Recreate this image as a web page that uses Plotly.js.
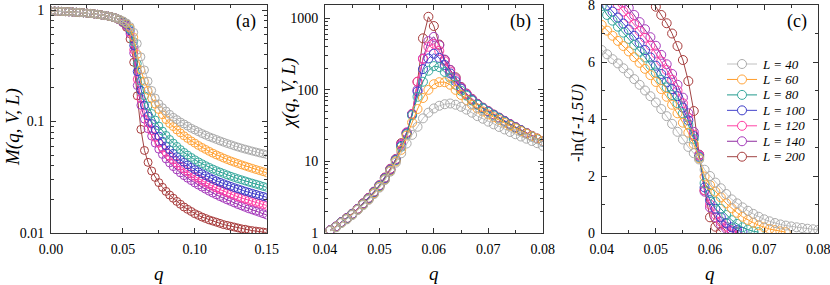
<!DOCTYPE html>
<html><head><meta charset="utf-8">
<script src="https://cdn.plot.ly/plotly-3.0.1.min.js"></script>
<style>html,body{margin:0;padding:0;background:#fff}#chart{width:830px;height:285px}</style>
</head><body><div id="chart"></div>
<script>
// ---------- data ----------
const sizesL = ['40','60','80','100','120','140','200'];
const colors = ['#ababab','#ffa53c','#3aaa9f','#3c3cc8','#ff3ca2','#a63cbc','#a83c3c'];
const lineColors = ['#c0c0c0','#ff9d2a','#22998c','#4444cc','#ff44a6','#8e2c9e','#a04444'];

const qA = [0,0.0025,0.005,0.0075,0.01,0.0125,0.015,0.0175,0.02,0.0225,0.025,0.0275,0.03,0.0325,0.035,0.0375,0.04,0.0425,0.045,0.0475,0.05,0.0525,0.055,0.0575,0.06,0.0625,0.065,0.0675,0.07,0.0725,0.075,0.0775,0.08,0.0825,0.085,0.0875,0.09,0.0925,0.095,0.0975,0.1,0.1025,0.105,0.1075,0.11,0.1125,0.115,0.1175,0.12,0.1225,0.125,0.1275,0.13,0.1325,0.135,0.1375,0.14,0.1425,0.145,0.1475,0.15];

const M40 = [0.980,0.978,0.975,0.972,0.968,0.964,0.960,0.955,0.950,0.944,0.938,0.931,0.923,0.914,0.904,0.893,0.880,0.865,0.847,0.825,0.800,0.765,0.710,0.630,0.500,0.380,0.290,0.230,0.190,0.162,0.144,0.133,0.124,0.116,0.109,0.104,0.099,0.095,0.091,0.087,0.084,0.081,0.078,0.0755,0.073,0.071,0.069,0.067,0.0652,0.0635,0.062,0.0604,0.059,0.0577,0.0565,0.0554,0.0543,0.0533,0.0523,0.0514,0.0505];
const M60 = [0.980,0.978,0.975,0.972,0.968,0.964,0.960,0.955,0.950,0.944,0.938,0.931,0.923,0.914,0.904,0.893,0.880,0.865,0.847,0.823,0.795,0.755,0.69,0.57,0.40,0.29,0.23,0.19,0.162,0.143,0.128,0.115,0.104,0.096,0.090,0.084,0.079,0.0745,0.0705,0.067,0.064,0.061,0.0585,0.0562,0.054,0.052,0.0502,0.0486,0.047,0.0456,0.0443,0.0431,0.042,0.0409,0.0399,0.0389,0.038,0.0371,0.0363,0.0355,0.0347];
const M80 = [0.980,0.978,0.975,0.972,0.968,0.964,0.960,0.955,0.950,0.944,0.938,0.931,0.923,0.914,0.904,0.893,0.880,0.865,0.847,0.822,0.79,0.75,0.67,0.52,0.33,0.23,0.17,0.138,0.118,0.103,0.091,0.082,0.075,0.069,0.064,0.0598,0.056,0.0528,0.050,0.0476,0.0454,0.0435,0.0418,0.0402,0.0388,0.0375,0.0363,0.0352,0.0342,0.0332,0.0323,0.0315,0.0307,0.030,0.0293,0.0286,0.028,0.0274,0.0268,0.0262,0.0257];
const M100 = [0.980,0.978,0.975,0.972,0.968,0.964,0.960,0.955,0.950,0.944,0.938,0.931,0.923,0.914,0.904,0.893,0.880,0.865,0.847,0.82,0.785,0.74,0.65,0.48,0.28,0.19,0.14,0.112,0.096,0.084,0.074,0.0665,0.0605,0.0558,0.0518,0.0484,0.0455,0.043,0.0408,0.0388,0.037,0.0354,0.034,0.0327,0.0315,0.0304,0.0294,0.0285,0.0277,0.0269,0.0262,0.0255,0.0249,0.0243,0.0237,0.0232,0.0227,0.0222,0.0217,0.0213,0.0209];
const M120 = [0.980,0.978,0.975,0.972,0.968,0.964,0.960,0.955,0.950,0.944,0.938,0.931,0.923,0.914,0.904,0.893,0.880,0.865,0.847,0.818,0.78,0.73,0.63,0.44,0.24,0.16,0.12,0.097,0.083,0.072,0.064,0.0577,0.0527,0.0486,0.0452,0.0422,0.0397,0.0375,0.0355,0.0338,0.0322,0.0308,0.0295,0.0283,0.0272,0.0262,0.0253,0.0245,0.0237,0.023,0.0223,0.0217,0.0211,0.0206,0.0201,0.0196,0.0192,0.0188,0.0184,0.018,0.0177];
const M140 = [0.980,0.978,0.975,0.972,0.968,0.964,0.960,0.955,0.950,0.944,0.938,0.931,0.923,0.914,0.904,0.893,0.880,0.865,0.847,0.816,0.775,0.72,0.61,0.41,0.21,0.14,0.105,0.086,0.074,0.064,0.0565,0.0507,0.0462,0.0425,0.0394,0.0368,0.0346,0.0327,0.031,0.0295,0.0281,0.0269,0.0258,0.0247,0.0237,0.0228,0.022,0.0212,0.0205,0.0198,0.0192,0.0186,0.018,0.0175,0.017,0.0165,0.0161,0.0157,0.0153,0.0149,0.0145];
const M200 = [0.980,0.978,0.975,0.972,0.968,0.964,0.960,0.955,0.950,0.944,0.938,0.931,0.923,0.914,0.904,0.893,0.880,0.865,0.847,0.814,0.77,0.70,0.55,0.34,0.17,0.085,0.055,0.043,0.036,0.0315,0.0283,0.0257,0.0236,0.0219,0.0205,0.0192,0.0181,0.0171,0.0163,0.0156,0.0149,0.0144,0.0139,0.0135,0.0131,0.0128,0.0125,0.0122,0.0119,0.0117,0.0115,0.0113,0.0111,0.0109,0.0108,0.0106,0.0105,0.0104,0.0103,0.0102,0.0101];

const qB = [0.041,0.042,0.043,0.044,0.045,0.046,0.047,0.048,0.049,0.050,0.051,0.052,0.053,0.054,0.055,0.056,0.057,0.058,0.059,0.060,0.061,0.062,0.063,0.064,0.065,0.066,0.067,0.068,0.069,0.070,0.071,0.072,0.073,0.074,0.075,0.076,0.077,0.078,0.079,0.080];
const X40 = [1.08,1.2,1.38,1.55,1.78,2.1,2.45,2.9,3.5,4.3, 5.5,7.2,9.6,13,17.8,23.5,30.5,40,48,55, 60,63,64.5,62,58,53,48,43,39.5,36, 33,30.3,28,25.8,24,22.3,20.8,19.3,18,16.5];
const X60 = [1.08,1.21,1.39,1.57,1.8,2.12,2.5,2.95,3.6,4.4, 5.6,7.4,10,14.5,23,35,54,77,100,120, 128,128,118,100,85,72,62,55,50,45.5, 41.5,38,34.5,31.5,29,26.5,24.5,22.5,20.8,19.2];
const X80 = [1.08,1.21,1.4,1.58,1.82,2.13,2.52,3.0,3.65,4.5, 5.7,7.5,10.3,16,24,44,80,130,185,215, 208,178,148,118,97,83,71,62,55,49, 44,40,36,32.5,29.5,27,24.5,22.3,20.5,18.9];
const X100 = [1.09,1.22,1.41,1.6,1.83,2.15,2.55,3.02,3.7,4.55, 5.8,7.6,10.5,16.5,24.5,45,95,195,275,320, 280,222,170,132,104,85,72,62.5,55.5,49.5, 44.5,40.3,36.3,32.8,29.8,27.2,24.7,22.5,20.6,19];
const X120 = [1.09,1.22,1.41,1.6,1.84,2.16,2.56,3.05,3.72,4.6, 5.85,7.7,10.6,17,25,46,130,270,400,440, 350,250,180,140,106,87,73,63,56,50, 44.8,40.5,36.5,33,30,27.3,24.8,22.6,20.7,19.1];
const X140 = [1.1,1.23,1.42,1.61,1.85,2.17,2.58,3.07,3.75,4.62, 5.9,7.8,10.7,17.5,25.5,46,100,275,480,550, 420,265,190,145,108,88,74,63.5,56,50.3, 45,40.7,36.7,33.2,30.1,27.4,24.9,22.7,20.8,19.2];
const X200 = [1.1,1.23,1.42,1.62,1.86,2.18,2.6,3.1,3.78,4.65, 5.95,7.9,10.8,18,25,46,130,525,1050,780, 430,262,190,150,110,89,75,64,56.5,50.5, 45.2,40.9,36.9,33.3,30.2,27.5,25,22.8,20.9,19.3];

const qC = [0.040,0.041,0.042,0.043,0.044,0.045,0.046,0.047,0.048,0.049,0.050,0.051,0.052,0.053,0.054,0.055,0.056,0.057,0.058,0.059,0.060,0.061,0.062,0.063,0.064,0.065,0.066,0.067,0.068,0.069,0.070,0.071,0.072,0.073,0.074,0.075,0.076,0.077,0.078,0.079,0.080];
const U40 = [6.42,6.27,6.1,5.95,5.78,5.6,5.4,5.2,5.0,4.8, 4.58,4.35,4.1,3.83,3.55,3.28,3.02,2.8,2.58,2.22, 2.0,1.77,1.57,1.37,1.18,1.04,0.9,0.78,0.67,0.57, 0.48,0.41,0.35,0.3,0.26,0.23,0.2,0.175,0.15,0.13,0.11];
const U60 = [7.3,7.1,6.92,6.74,6.56,6.37,6.17,5.97,5.76,5.54, 5.3,5.05,4.78,4.5,4.2,3.87,3.52,3.12,2.62,1.98, 1.68,1.45,1.25,1.04,0.87,0.71,0.57,0.46,0.36,0.27, 0.2,0.14,0.1,0.06,0.03,null,null,null,null,null,null];
const U80 = [7.96,7.65,7.45,7.24,7.03,6.81,6.6,6.36,6.16,5.89, 5.63,5.37,5.11,4.84,4.55,4.2,3.8,3.3,2.65,1.75, 1.4,1.1,0.85,0.63,0.45,0.32,0.2,0.12,0.06,0.03, null,null,null,null,null,null,null,null,null,null,null];
const U100 = [8.2,7.98,7.77,7.56,7.35,7.14,6.92,6.68,6.42,6.16, 5.87,5.58,5.3,5.05,4.8,4.4,3.95,3.4,2.68,1.6, 1.15,0.85,0.55,0.35,0.2,0.1,0.04,null,null,null, null,null,null,null,null,null,null,null,null,null,null];
const U120 = [null,8.45,8.2,8.0,7.77,7.55,7.32,7.08,6.85,6.58, 6.3,6.02,5.72,5.38,5.0,4.55,4.05,3.45,2.72,1.5, 1.0,0.65,0.4,0.22,0.1,0.04,null,null,null,null, null,null,null,null,null,null,null,null,null,null,null];
const U140 = [null,null,null,8.35,8.1,7.9,7.65,7.4,7.15,6.87, 6.57,6.25,5.92,5.58,5.2,4.75,4.2,3.55,2.74,1.45, 0.9,0.55,0.3,0.15,0.06,0.02,null,null,null,null, null,null,null,null,null,null,null,null,null,null,null];
const U200 = [null,null,null,null,null,null,null,null,8.5,8.2, 7.94,7.65,7.36,7.0,6.56,6.07,5.33,4.28,2.75,1.5, 0.55,0.22,0.04,null,null,null,null,null,null,null, null,null,null,null,null,null,null,null,null,null,null];

const ticksA_x = [0,0.05,0.10,0.15], ticksA_xt = ['0.00','0.05','0.10','0.15'];
const ticksA_y = [0.01,0.1,1], ticksA_yt = ['0.01','0.1','1'];
const ticksB_x = [0.04,0.05,0.06,0.07,0.08], ticksB_xt = ['0.04','0.05','0.06','0.07','0.08'];
const ticksB_y = [1,10,100,1000], ticksB_yt = ['1','10','100','1000'];
const ticksC_y = [0,2,4,6,8], ticksC_yt = ['0','2','4','6','8'];

const Mser = [M40,M60,M80,M100,M120,M140,M200];
const Xser = [X40,X60,X80,X100,X120,X140,X200];
const User = [U40,U60,U80,U100,U120,U140,U200];

// ---------- build ----------
const W = 830, H = 285;
const px = v => v / W, py = v => 1 - v / H;
const FONT = '"Liberation Serif", "Times New Roman", Times, "DejaVu Serif", serif';

const traces = [];
for (let i = sizesL.length - 1; i >= 0; i--) {
  const mk = (x, y, xa, ya, sz) => ({
    type: 'scatter', mode: 'lines+markers', x: x, y: y, xaxis: xa, yaxis: ya,
    showlegend: false, hoverinfo: 'skip',
    line: {color: lineColors[i], width: 1},
    marker: {symbol: 'circle-open', size: sz, color: colors[i], line: {width: 1}}
  });
  traces.push(mk(qA, Mser[i], 'x', 'y', 8));
  traces.push(mk(qB, Xser[i], 'x2', 'y2', 9));
  traces.push(mk(qC, User[i], 'x3', 'y3', 9));
}

const logMinor = (lo, hi) => { const v = []; for (let d = lo; d < hi; d++) for (let k = 2; k <= 9; k++) v.push(k * Math.pow(10, d)); return v; };

const base = {
  showline: true, linecolor: '#333', linewidth: 1, mirror: 'allticks',
  ticks: 'inside', ticklen: 5, tickwidth: 1, tickcolor: '#333',
  tickfont: {family: FONT, size: 14, color: '#000'},
  showgrid: false, zeroline: false, ticklabelstandoff: 3, ticklabeloverflow: 'allow'
};
const yDom = [1 - 233 / H, 1 - 5 / H];

const layout = {
  width: W, height: H, margin: {l: 0, r: 0, t: 0, b: 0},
  font: {family: FONT, color: '#000'},
  paper_bgcolor: '#fff', plot_bgcolor: '#fff', showlegend: false,
  xaxis: Object.assign({}, base, {domain: [px(51), px(266.7)], range: [0, 0.15], anchor: 'y',
    tickmode: 'array', tickvals: ticksA_x, ticktext: ticksA_xt,
    minor: {tickvals: [0.025, 0.075, 0.125], ticks: 'inside', ticklen: 3, tickcolor: '#333'}}),
  yaxis: Object.assign({}, base, {domain: yDom, type: 'log', range: [-2, 0.045], anchor: 'x',
    tickmode: 'array', tickvals: ticksA_y, ticktext: ticksA_yt,
    minor: {tickvals: logMinor(-2, 0), ticks: 'inside', ticklen: 3, tickcolor: '#333'}}),
  xaxis2: Object.assign({}, base, {domain: [px(325), px(542.7)], range: [0.04, 0.08], anchor: 'y2',
    tickmode: 'array', tickvals: ticksB_x, ticktext: ticksB_xt,
    minor: {tickvals: [0.045, 0.055, 0.065, 0.075], ticks: 'inside', ticklen: 3, tickcolor: '#333'}}),
  yaxis2: Object.assign({}, base, {domain: yDom, type: 'log', range: [0, 3.186], anchor: 'x2',
    tickmode: 'array', tickvals: ticksB_y, ticktext: ticksB_yt,
    minor: {tickvals: logMinor(0, 4), ticks: 'inside', ticklen: 3, tickcolor: '#333'}}),
  xaxis3: Object.assign({}, base, {domain: [px(601.7), px(818.3)], range: [0.04, 0.08], anchor: 'y3',
    tickmode: 'array', tickvals: ticksB_x, ticktext: ticksB_xt,
    minor: {tickvals: [0.045, 0.055, 0.065, 0.075], ticks: 'inside', ticklen: 3, tickcolor: '#333'}}),
  yaxis3: Object.assign({}, base, {domain: yDom, range: [0, 8], anchor: 'x3',
    tickmode: 'array', tickvals: ticksC_y, ticktext: ticksC_yt,
    minor: {tickvals: [1, 3, 5, 7], ticks: 'inside', ticklen: 3, tickcolor: '#333'}}),
  annotations: [], shapes: []
};

const ann = (x, y, text, size, extra) => Object.assign({
  xref: 'paper', yref: 'paper', x: px(x), y: py(y), text: text, showarrow: false,
  font: {family: FONT, size: size, color: '#000'}, xanchor: 'center', yanchor: 'middle'
}, extra || {});

layout.annotations.push(ann(246, 21, '(a)', 18));
layout.annotations.push(ann(520, 21, '(b)', 18));
layout.annotations.push(ann(797, 21, '(c)', 18));
layout.annotations.push(ann(13, 127, '<i>M(q, V, L)</i>', 19, {textangle: -90}));
layout.annotations.push(ann(289, 94, '<i>χ(q, V, L)</i>', 19, {textangle: -90}));
layout.annotations.push(ann(577, 123, '-ln(<i>1-1.5U)</i>', 17, {textangle: -90}));
layout.annotations.push(ann(158.8, 273, '<i>q</i>', 19));
layout.annotations.push(ann(433.8, 273, '<i>q</i>', 19));
layout.annotations.push(ann(710, 273, '<i>q</i>', 19));

// manual legend in panel (c)
for (let i = 0; i < sizesL.length; i++) {
  const yy = 64 + i * 15.45;
  layout.shapes.push({type: 'line', xref: 'paper', yref: 'paper', x0: px(727), x1: px(757), y0: py(yy), y1: py(yy),
    line: {color: lineColors[i], width: 1}});
  layout.shapes.push({type: 'circle', xref: 'paper', yref: 'paper', xsizemode: 'pixel', ysizemode: 'pixel',
    xanchor: px(742), yanchor: py(yy), x0: -4.5, x1: 4.5, y0: -4.5, y1: 4.5,
    line: {color: colors[i], width: 1}, fillcolor: '#fff'});
  layout.annotations.push(ann(760, yy, '<i>L = ' + sizesL[i] + '</i>', 13, {xanchor: 'left'}));
}

Plotly.newPlot('chart', traces, layout, {displayModeBar: false, staticPlot: true});
</script></body></html>
